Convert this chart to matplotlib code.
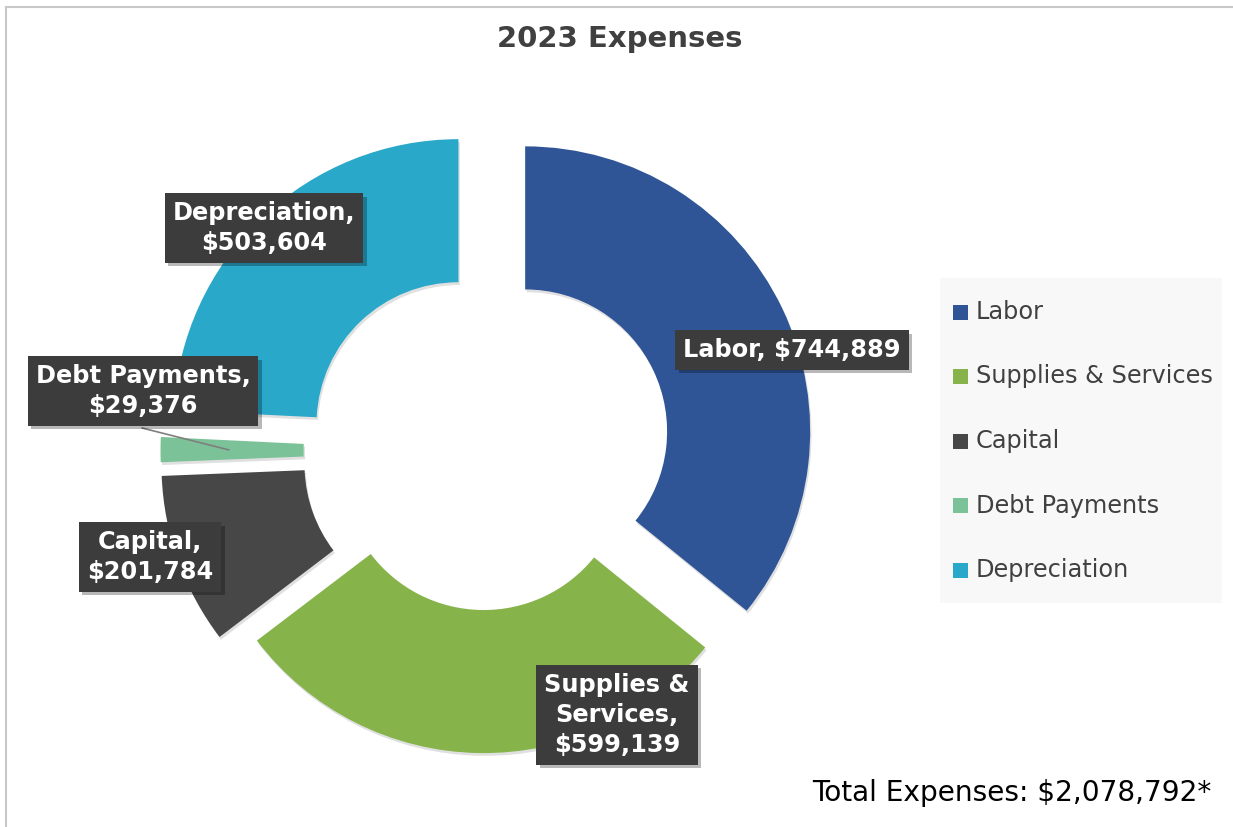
import numpy as np
import matplotlib
matplotlib.use("Agg")
import matplotlib.pyplot as plt
from matplotlib import patheffects as pe
from matplotlib.patches import Rectangle
from matplotlib.lines import Line2D

# Datos
title = "2023 Expenses"
categories = ["Labor", "Supplies & Services", "Capital", "Debt Payments", "Depreciation"]
values = [744889, 599139, 201784, 29376, 503604]
label_names = ["Labor", "Supplies &\nServices", "Capital", "Debt Payments", "Depreciation"]
label_seps = [", ", ",\n", ",\n", ",\n", ",\n"]
total_text = "Total Expenses: $2,078,792*"

# Estilo
colors = ["#2F5597", "#86B44B", "#474747", "#7CC298", "#29A8CA"]
explode = [0.16, 0.06, 0.14, 0.135, 0.13]
label_pos_px = [(792, 350), (617, 715), (150, 557), (143, 391), (264, 228)]

W, H = 1233, 827
CX, CY, RPX = 484, 451, 285


def px(x, y):
    # pixel de imagen -> coordenadas de datos
    return ((x - CX) / RPX, (CY - y) / RPX)


fig = plt.figure(figsize=(W / 100, H / 100), dpi=100)
ax = fig.add_axes([0, 0, 1, 1])

shadow = [pe.SimplePatchShadow(offset=(1, -2), shadow_rgbFace="#000000", alpha=0.12), pe.Normal()]
wedges, _ = ax.pie(
    values,
    colors=colors,
    explode=explode,
    startangle=90,
    counterclock=False,
    radius=1,
    wedgeprops=dict(width=0.502, linewidth=0, path_effects=shadow),
)
ax.set_aspect("auto")
ax.set_xlim(-CX / RPX, (W - CX) / RPX)
ax.set_ylim((CY - H) / RPX, CY / RPX)
ax.axis("off")

# Etiquetas de datos
for name, sep, val, pos in zip(label_names, label_seps, values, label_pos_px):
    t = ax.text(
        *px(*pos),
        f"{name}{sep}${val:,}",
        ha="center",
        va="center",
        multialignment="center",
        color="white",
        fontsize=17.3,
        fontweight="bold",
        linespacing=1.32,
        zorder=5,
        bbox=dict(boxstyle="square,pad=0.33", fc="#3C3C3C", ec="none", lw=0),
    )
    t.get_bbox_patch().set_path_effects(
        [pe.SimplePatchShadow(offset=(2.5, -2.5), shadow_rgbFace="#000000", alpha=0.28), pe.Normal()]
    )

# Línea guía para Debt Payments
w = wedges[3]
mid = np.deg2rad((w.theta1 + w.theta2) / 2)
xy = (w.center[0] + 0.76 * np.cos(mid), w.center[1] + 0.76 * np.sin(mid))
ax.annotate(
    "",
    xy=xy,
    xytext=px(142, 428),
    arrowprops=dict(arrowstyle="-", color="#7F7F7F", lw=1.2, shrinkA=0, shrinkB=0),
    zorder=4,
)

# Leyenda
fig.add_artist(
    Rectangle((940 / W, 1 - 603 / H), 282 / W, 325 / H, transform=fig.transFigure,
              fc="#F8F8F8", ec="none", zorder=1)
)
for i, (name, color) in enumerate(zip(categories, colors)):
    y = 312 + i * 64.5
    fig.add_artist(
        Rectangle((953 / W, 1 - (y + 7.5) / H), 15 / W, 15 / H, transform=fig.transFigure,
                  fc=color, ec="none", zorder=2)
    )
    fig.text(976 / W, 1 - y / H, name, ha="left", va="center", fontsize=17.3,
             color="#404040", zorder=2)

# Título y total
fig.text(620 / W, 1 - 39 / H, title, ha="center", va="center", fontsize=21,
         fontweight="bold", color="#404040")
fig.text(1211 / W, 1 - 793 / H, total_text, ha="right", va="center", fontsize=20.2,
         color="black")

# Borde
fig.add_artist(Line2D([6 / W, 1], [1 - 7 / H] * 2, transform=fig.transFigure, color="#C8C8C8", lw=1.5))
fig.add_artist(Line2D([6 / W] * 2, [0, 1 - 7 / H], transform=fig.transFigure, color="#C8C8C8", lw=1.5))

fig.savefig("out.png", dpi=100)
